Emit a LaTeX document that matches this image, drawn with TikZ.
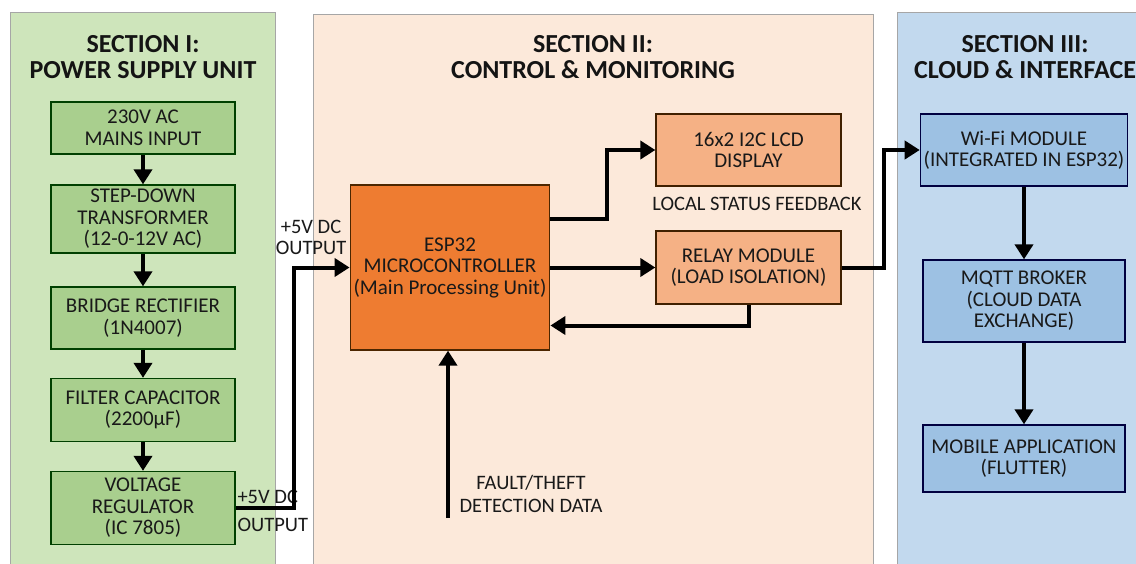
\documentclass[tikz,border=0pt]{standalone}
\usepackage{fontspec}
\setmainfont{Carlito}
\usepackage{tikz}
\usetikzlibrary{arrows.meta}

\definecolor{secone}{HTML}{CEE5BB}
\definecolor{sectwo}{HTML}{FCE9DA}
\definecolor{secthree}{HTML}{C2D9EE}
\definecolor{psufill}{HTML}{A9CF8E}
\definecolor{espfill}{HTML}{EE7C31}
\definecolor{modfill}{HTML}{F5B185}
\definecolor{cloudfill}{HTML}{9DC1E3}

\begin{document}
\begin{tikzpicture}[x=1pt, y=-1pt,
		panel/.style={draw=black!35, line width=0.8pt},
		title/.style={font=\bfseries\fontsize{26}{26}\selectfont, align=center, text=black!92},
		blk/.style={draw, line width=1.3pt, align=center, text=black!90, font=\fontsize{21}{21.5}\selectfont},
		psu/.style={blk, draw=green!25!black, fill=psufill, minimum width=184pt},
		mcu/.style={blk, draw=orange!30!black, fill=espfill, minimum width=196pt, minimum height=165pt},
		mod/.style={blk, draw=orange!25!black, fill=modfill, minimum width=185pt},
		cloud/.style={blk, draw=blue!25!black, fill=cloudfill, minimum width=202pt},
		lbl/.style={align=center, text=black!90, font=\fontsize{20.5}{21}\selectfont},
		flow/.style={line width=4pt, -{Triangle[length=15pt, width=18pt]}}
	]
	\useasboundingbox (0,0) rectangle (1136,563);
	\clip (0,0) rectangle (1136,563);
	\fill[white] (0,0) rectangle (1136,563);

	\draw[panel, fill=secone] (10,12) rectangle (275,580);
	\draw[panel, fill=sectwo] (313,14) rectangle (873,580);
	\draw[panel, fill=secthree] (897,12) rectangle (1150,580);

	\node[title] (t1) at (143,57) {SECTION I:\\POWER SUPPLY UNIT};
	\node[title] (t2) at (593,57) {SECTION II:\\CONTROL \& MONITORING};
	\node[title] (t3) at (1025,57) {SECTION III:\\CLOUD \& INTERFACE};

	\node[psu, minimum height=52pt] (mains) at (143,128) {230V AC\\MAINS INPUT};
	\node[psu, minimum height=68pt] (xfmr) at (143,219) {STEP-DOWN\\TRANSFORMER\\(12-0-12V AC)};
	\node[psu, minimum height=62pt] (rect) at (143,318) {BRIDGE RECTIFIER\\(1N4007)};
	\node[psu, minimum height=63pt] (filt) at (143,410) {FILTER CAPACITOR\\(2200µF)};
	\node[psu, minimum height=73pt] (reg) at (143,508) {VOLTAGE\\REGULATOR\\(IC 7805)};

	\node[mcu] (esp) at (450,267.5) {ESP32\\MICROCONTROLLER\\(Main Processing Unit)};
	\node[mod, minimum height=72pt] (lcd) at (748.5,150) {16x2 I2C LCD\\DISPLAY};
	\node[mod, minimum height=73pt] (relay) at (748.5,267.5) {RELAY MODULE\\(LOAD ISOLATION)};

	\node[cloud, minimum height=72pt] (wifi) at (1024,150) {Wi-Fi MODULE\\(INTEGRATED IN ESP32)};
	\node[cloud, minimum height=82pt] (mqtt) at (1024,301) {MQTT BROKER\\(CLOUD DATA\\EXCHANGE)};
	\node[cloud, minimum height=67pt] (app) at (1024,458.5) {MOBILE APPLICATION\\(FLUTTER)};

	\node[lbl, anchor=west] (dcout) at (234,497) {+5V DC};
	\node[lbl, anchor=west] (dcoutb) at (234,525) {OUTPUT};
	\node[lbl] (dcin) at (311,237) {+5V DC\\OUTPUT};
	\node[lbl] (fb) at (757,204) {LOCAL STATUS FEEDBACK};
	\node[lbl, font=\fontsize{20.5}{23}\selectfont] (det) at (531,494) {FAULT/THEFT\\DETECTION DATA};
	\coordinate (sense) at (448,518);

	\draw[flow] (mains) -- (xfmr);
	\draw[flow] (xfmr) -- (rect);
	\draw[flow] (rect) -- (filt);
	\draw[flow] (filt) -- (reg);
	\draw[flow] (reg.east) -- ++(58,0) |- (esp.west);

	\draw[flow] ([yshift=49pt]esp.east) -- ++(57,0) |- (lcd.west);
	\draw[flow] (esp.east) -- (relay.west);
	\draw[flow] (relay.south) |- ([yshift=-58pt]esp.east);
	\draw[flow] (sense) -- (sense |- esp.south);

	\draw[flow] (relay.east) -- ++(42,0) |- (wifi.west);
	\draw[flow] (wifi) -- (mqtt);
	\draw[flow] (mqtt) -- (app);
\end{tikzpicture}
\end{document}
